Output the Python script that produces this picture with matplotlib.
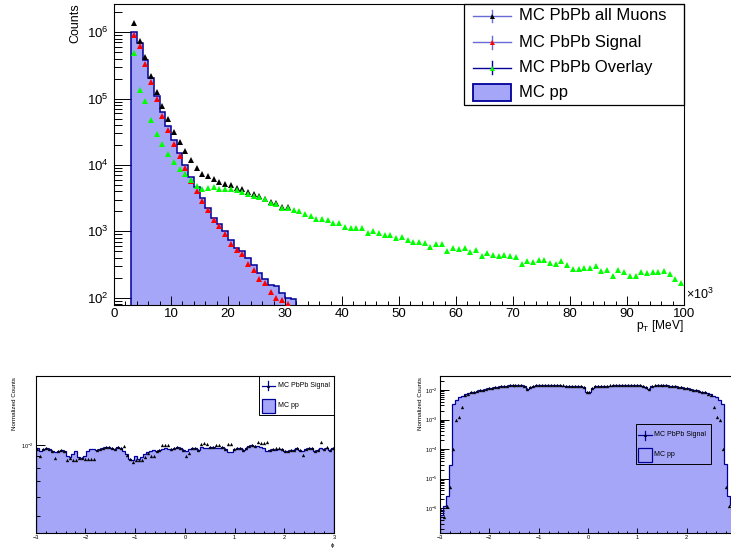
import numpy as np
import matplotlib
matplotlib.use("Agg")
import matplotlib.pyplot as plt
from matplotlib.patches import Rectangle
from matplotlib.lines import Line2D
from matplotlib.ticker import LogLocator, MultipleLocator, NullFormatter, FixedLocator, FixedFormatter

plt.rcParams['font.family'] = ['Liberation Sans', 'DejaVu Sans']
plt.rcParams['mathtext.fontset'] = 'custom'
plt.rcParams['mathtext.rm'] = 'Liberation Sans'
plt.rcParams['mathtext.it'] = 'Liberation Sans'

# ---------------- data ----------------
# transverse momentum, bins of 1 (x10^3 MeV) starting at 3
pt_first_edge = 3.0
pt_bin_width = 1.0

pp_pt = [1.02e6, 6.8e5, 3.84e5, 2.03e5, 1.08e5, 6.2e4, 3.8e4, 2.35e4, 1.5e4, 9.9e3,
         6.6e3, 4.6e3, 3.2e3, 2.26e3, 1.6e3, 1.3e3, 1.0e3, 735, 565, 500,
         398, 309, 238, 188, 158, 150, 119, 98, 97]

all_muons_pt = [1.36e6, 7.4e5, 4.2e5, 2.2e5, 1.25e5, 7.6e4, 4.9e4, 3.1e4, 2.2e4, 1.6e4,
                1.17e4, 9.0e3, 7.4e3, 6.8e3, 6.2e3, 5.6e3, 5.2e3, 5.0e3, 4.5e3, 4.3e3,
                3.9e3, 3.6e3, 3.4e3, 3.1e3, 2810, 2700, 2350, 2340]

signal_pt = [9.1e5, 6.1e5, 3.34e5, 1.77e5, 9.8e4, 5.5e4, 3.4e4, 2.1e4, 1.35e4, 9.0e3,
             5.8e3, 4.0e3, 2.84e3, 2.08e3, 1.5e3, 1.19e3, 896, 649, 520, 463,
             317, 260, 193, 164, 123, 100, 92, 81]

overlay_pt = [4.83e5, 1.36e5, 9.06e4, 4.81e4, 2.93e4, 2.05e4, 1.48e4, 1.11e4, 8.7e3, 7.2e3,
              5.9e3, 4.8e3, 4.4e3, 4.5e3, 4.6e3, 4.4e3, 4.4e3, 4.3e3, 4.16e3, 3.9e3,
              3.66e3, 3.46e3, 3.3e3, 3.08e3, 2.69e3, 2.6e3, 2256, 2256, 2130, 2055,
              1807, 1687, 1556, 1556, 1469, 1343, 1343, 1153, 1114, 1140,
              1140, 936, 1002, 936, 873, 873, 787, 815, 745, 686,
              686, 671, 577, 640, 640, 502, 557, 546, 557, 485,
              532, 423, 475, 433, 423, 433, 418, 404, 324, 356,
              344, 364, 364, 336, 317, 352, 313, 273, 267, 282,
              276, 299, 255, 261, 211, 261, 240, 211, 214, 246,
              235, 246, 243, 251, 227, 188, 168]

# azimuthal angle, 100 bins in [-3, 3]
phi_range = (-3.0, 3.0)
pp_phi = [9.73e-3, 9.47e-3, 9.63e-3, 9.73e-3, 9.63e-3, 9.47e-3, 9.32e-3, 9.47e-3, 9.53e-3, 9.41e-3,
          9.02e-3, 8.88e-3, 9.18e-3, 9.41e-3, 8.88e-3, 8.82e-3, 9.02e-3, 9.47e-3, 9.63e-3, 9.63e-3,
          9.53e-3, 9.63e-3, 9.73e-3, 9.80e-3, 9.85e-3, 9.73e-3, 9.63e-3, 9.80e-3, 9.73e-3, 9.47e-3,
          9.18e-3, 8.73e-3, 8.65e-3, 9.02e-3, 8.73e-3, 8.88e-3, 9.18e-3, 9.32e-3, 9.47e-3, 9.53e-3,
          9.41e-3, 9.53e-3, 9.63e-3, 9.73e-3, 9.63e-3, 9.63e-3, 9.73e-3, 9.80e-3, 9.70e-3, 9.53e-3,
          9.47e-3, 9.60e-3, 9.73e-3, 9.73e-3, 9.53e-3, 9.85e-3, 9.73e-3, 9.73e-3, 9.85e-3, 9.80e-3,
          9.73e-3, 9.73e-3, 9.80e-3, 9.63e-3, 9.32e-3, 9.32e-3, 9.63e-3, 9.73e-3, 9.73e-3, 9.53e-3,
          9.73e-3, 9.95e-3, 1.005e-2, 9.95e-3, 9.95e-3, 9.85e-3, 9.73e-3, 9.47e-3, 9.53e-3, 9.63e-3,
          9.53e-3, 9.63e-3, 9.63e-3, 9.47e-3, 9.41e-3, 9.53e-3, 9.53e-3, 9.73e-3, 9.53e-3, 9.41e-3,
          9.63e-3, 9.73e-3, 9.73e-3, 9.47e-3, 9.53e-3, 9.73e-3, 9.63e-3, 9.73e-3, 9.53e-3, 9.73e-3]

signal_phi = [9.6e-3, 9.02e-3, 9.6e-3, 9.7e-3, 9.6e-3, 9.4e-3, 8.79e-3, 9.4e-3, 9.5e-3, 9.4e-3,
              8.60e-3, 8.8e-3, 8.65e-3, 8.65e-3, 8.8e-3, 8.8e-3, 8.70e-3, 8.70e-3, 8.70e-3, 8.70e-3,
              9.5e-3, 9.6e-3, 9.7e-3, 9.8e-3, 9.8e-3, 9.7e-3, 9.6e-3, 9.8e-3, 9.7e-3, 9.95e-3,
              9.1e-3, 8.7e-3, 8.50e-3, 8.60e-3, 8.60e-3, 8.60e-3, 8.88e-3, 9.2e-3, 8.94e-3, 9.0e-3,
              9.4e-3, 9.5e-3, 1.0e-2, 1.0e-2, 1.0e-2, 9.6e-3, 9.7e-3, 9.8e-3, 9.7e-3, 9.5e-3,
              9.02e-3, 9.23e-3, 9.7e-3, 9.7e-3, 9.5e-3, 1.01e-2, 1.015e-2, 1.01e-2, 9.8e-3, 9.8e-3,
              1.005e-2, 1.005e-2, 9.8e-3, 9.6e-3, 1.01e-2, 1.01e-2, 9.6e-3, 9.7e-3, 9.7e-3, 9.5e-3,
              9.7e-3, 9.9e-3, 1.0e-2, 9.9e-3, 1.025e-2, 1.015e-2, 1.015e-2, 1.025e-2, 9.5e-3, 9.6e-3,
              9.73e-3, 9.73e-3, 9.6e-3, 9.4e-3, 9.4e-3, 9.5e-3, 9.5e-3, 9.7e-3, 9.5e-3, 9.1e-3,
              9.6e-3, 9.7e-3, 9.7e-3, 9.4e-3, 9.5e-3, 1.025e-2, 9.6e-3, 9.85e-3, 9.5e-3, 9.73e-3]

# pseudorapidity, 100 bins in [-3, 3]
eta_range = (-3.0, 3.0)
eta_tick_values = [-3, -2, -1, 0, 1, 2, 3]
eta_tick_labels = ['\u22123', '\u22122', '\u22121', '0', '1', '2', '']
pp_eta = [6e-7, 1.2e-6, 2.5e-6, 3.0e-5, 3.5e-3, 4.6e-3, 5.6e-3, 6.4e-3, 7.1e-3, 7.7e-3,
          8.3e-3, 8.8e-3, 9.3e-3, 9.8e-3, 1.03e-2, 1.08e-2, 1.13e-2, 1.18e-2, 1.23e-2, 1.28e-2,
          1.33e-2, 1.37e-2, 1.41e-2, 1.43e-2, 1.45e-2, 1.46e-2, 1.46e-2, 1.44e-2, 1.36e-2, 1.08e-2,
          1.30e-2, 1.41e-2, 1.45e-2, 1.46e-2, 1.46e-2, 1.45e-2, 1.45e-2, 1.44e-2, 1.44e-2, 1.43e-2,
          1.43e-2, 1.42e-2, 1.41e-2, 1.40e-2, 1.39e-2, 1.38e-2, 1.36e-2, 1.32e-2, 1.22e-2, 8.8e-3,
          8.6e-3, 1.20e-2, 1.32e-2, 1.36e-2, 1.38e-2, 1.40e-2, 1.41e-2, 1.42e-2, 1.43e-2, 1.43e-2,
          1.44e-2, 1.44e-2, 1.45e-2, 1.45e-2, 1.46e-2, 1.46e-2, 1.45e-2, 1.43e-2, 1.38e-2, 1.30e-2,
          1.07e-2, 1.32e-2, 1.42e-2, 1.46e-2, 1.46e-2, 1.45e-2, 1.43e-2, 1.41e-2, 1.37e-2, 1.33e-2,
          1.28e-2, 1.23e-2, 1.18e-2, 1.13e-2, 1.08e-2, 1.03e-2, 9.8e-3, 9.3e-3, 8.8e-3, 8.3e-3,
          7.7e-3, 7.1e-3, 6.4e-3, 5.6e-3, 4.6e-3, 3.5e-3, 3.2e-5, 2.6e-6, 1.3e-6, 6e-7]

signal_eta = [8.9e-7, 5e-7, 1.15e-6, 5.4e-6, 1.0e-4, 9.7e-4, 1.2e-3, 2.7e-3, 6.8e-3, 7.6e-3,
              8.3e-3, 8.8e-3, 9.3e-3, 9.8e-3, 1.04e-2, 1.09e-2, 1.14e-2, 1.19e-2, 1.24e-2, 1.29e-2,
              1.34e-2, 1.38e-2, 1.42e-2, 1.44e-2, 1.46e-2, 1.47e-2, 1.47e-2, 1.45e-2, 1.37e-2, 1.09e-2,
              1.31e-2, 1.42e-2, 1.46e-2, 1.47e-2, 1.47e-2, 1.46e-2, 1.46e-2, 1.45e-2, 1.45e-2, 1.44e-2,
              1.44e-2, 1.43e-2, 1.42e-2, 1.41e-2, 1.40e-2, 1.39e-2, 1.37e-2, 1.33e-2, 1.23e-2, 8.9e-3,
              8.7e-3, 1.21e-2, 1.33e-2, 1.37e-2, 1.39e-2, 1.41e-2, 1.42e-2, 1.43e-2, 1.44e-2, 1.44e-2,
              1.45e-2, 1.45e-2, 1.46e-2, 1.46e-2, 1.47e-2, 1.47e-2, 1.46e-2, 1.44e-2, 1.39e-2, 1.31e-2,
              1.08e-2, 1.33e-2, 1.43e-2, 1.47e-2, 1.47e-2, 1.46e-2, 1.44e-2, 1.42e-2, 1.38e-2, 1.34e-2,
              1.29e-2, 1.24e-2, 1.19e-2, 1.14e-2, 1.09e-2, 1.04e-2, 9.8e-3, 9.3e-3, 8.8e-3, 8.3e-3,
              7.6e-3, 6.8e-3, 2.7e-3, 1.2e-3, 9.7e-4, 1.0e-4, 5.4e-6, 1.15e-6, 5e-7, 8.9e-7]

# ---------------- styles ----------------
FILL = '#a6a6f8'
NAVY = '#000099'
LEGLINE = '#6a6ad6'
GREEN = '#00ff00'
RED = '#ff0000'
W, H = 731, 549

fig = plt.figure(figsize=(W / 100, H / 100), dpi=100)
fig.patch.set_facecolor('white')


def rect(x0, y0, x1, y1):
    """pixel box (origin top-left) -> figure fraction rectangle"""
    return [x0 / W, 1 - y1 / H, (x1 - x0) / W, (y1 - y0) / H]


def fxy(x, y):
    return x / W, 1 - y / H


def root_frame(ax, lw=0.8):
    for s in ax.spines.values():
        s.set_linewidth(lw)
    ax.tick_params(which='both', direction='in', top=False, right=False,
                   width=0.7, color='black')


def legend_frame(x0, y0, x1, y1, lw=0.9):
    fig.add_artist(Rectangle(fxy(x0, y1), (x1 - x0) / W, (y1 - y0) / H,
                             transform=fig.transFigure, fill=False,
                             ec='black', lw=lw))


def legend_marker(xa, xb, yc, half, lcolor, mcolor, ms, lw, text, tx, fs):
    fig.add_artist(Line2D([xa / W, xb / W], [1 - yc / H] * 2, color=lcolor,
                          lw=lw, transform=fig.transFigure))
    xm = 0.5 * (xa + xb)
    fig.add_artist(Line2D([xm / W] * 2, [1 - (yc - half) / H, 1 - (yc + half) / H],
                          color=lcolor, lw=lw, transform=fig.transFigure))
    fig.add_artist(Line2D([xm / W], [1 - yc / H], marker='^', ms=ms,
                          color=mcolor, mew=0, ls='none', transform=fig.transFigure))
    fig.text(tx / W, 1 - yc / H, text, ha='left', va='center', fontsize=fs)


def legend_fill(xa, ya, xb, yb, text, tx, fs, lw):
    fig.add_artist(Rectangle(fxy(xa, yb), (xb - xa) / W, (yb - ya) / H,
                             transform=fig.transFigure, fc=FILL, ec=NAVY, lw=lw))
    fig.text(tx / W, 1 - 0.5 * (ya + yb) / H, text, ha='left', va='center', fontsize=fs)


# ---------------- top: pT spectrum ----------------
ax = fig.add_axes(rect(114, 4.3, 684, 305))
n_pp = len(pp_pt)
pp_edges = pt_first_edge + pt_bin_width * np.arange(n_pp + 1)
ax.stairs(pp_pt, pp_edges, baseline=1.0, fill=True, color=FILL, zorder=1)
ax.stairs(pp_pt, pp_edges, baseline=1.0, color=NAVY, lw=1.1, zorder=2)


def centers(n):
    return pt_first_edge + pt_bin_width * (np.arange(n) + 0.5)


MS = 4.6
ax.plot(centers(len(all_muons_pt)), all_muons_pt, '^', color='black', ms=MS, mew=0, zorder=3)
ax.plot(centers(len(signal_pt)), signal_pt, '^', color=RED, ms=MS, mew=0, zorder=4)
ax.plot(centers(len(overlay_pt)), overlay_pt, '^', color=GREEN, ms=MS, mew=0, zorder=5)

ax.set_xlim(0, 100)
ax.set_yscale('log')
ax.set_ylim(77.6, 2.63e6)
root_frame(ax)
ax.xaxis.set_major_locator(MultipleLocator(10))
ax.xaxis.set_minor_locator(MultipleLocator(2))
ax.yaxis.set_major_locator(LogLocator(base=10))
ax.yaxis.set_minor_locator(LogLocator(base=10, subs=np.arange(2, 10)))
ax.yaxis.set_minor_formatter(NullFormatter())
ax.tick_params(axis='y', which='major', length=12.2, pad=4, labelsize=9.5)
ax.tick_params(axis='y', which='minor', length=6.1)
ax.tick_params(axis='x', which='major', length=6.4, pad=2, labelsize=9.5)
ax.tick_params(axis='x', which='minor', length=3.2)

fig.text(*fxy(686, 299), r'$\times$10$^{3}$', ha='left', va='baseline', fontsize=9)
fig.text(*fxy(684, 329), r'p$_{\mathrm{T}}$ [MeV]', ha='right', va='baseline', fontsize=8.6)
fig.text(*fxy(75, 3.3), 'Counts', rotation=90, ha='center', va='top', fontsize=9)

legend_frame(464, 4, 684, 105)
legend_marker(472.7, 510.7, 16, 6.3, LEGLINE, 'black', 3.6, 1.0, 'MC PbPb all Muons', 519.3, 12)
legend_marker(472.7, 510.7, 42.3, 6.3, LEGLINE, RED, 3.6, 1.0, 'MC PbPb Signal', 519.3, 12)
legend_marker(472.7, 510.7, 67.7, 6.3, NAVY, GREEN, 3.6, 1.0, 'MC PbPb Overlay', 519.3, 12)
legend_fill(472.7, 84.3, 510.7, 101, 'MC pp', 519.3, 12, 1.3)


# ---------------- bottom panels ----------------
def small_axes(box, xr, ylim, pp, sig):
    a = fig.add_axes(rect(*box))
    n = len(pp)
    edges = np.linspace(xr[0], xr[1], n + 1)
    mids = 0.5 * (edges[:-1] + edges[1:])
    a.stairs(pp, edges, baseline=1e-12, fill=True, color=FILL, zorder=1)
    a.stairs(pp, edges, baseline=1e-12, color=NAVY, lw=0.9, zorder=2)
    a.plot(mids, sig, '^', color='black', ms=2.4, mew=0, zorder=3)
    a.set_xlim(*xr)
    a.set_yscale('log')
    a.set_ylim(*ylim)
    root_frame(a, lw=0.8)
    a.xaxis.set_major_locator(MultipleLocator(1))
    a.xaxis.set_minor_locator(MultipleLocator(0.2))
    a.yaxis.set_major_locator(LogLocator(base=10))
    a.yaxis.set_minor_locator(LogLocator(base=10, subs=np.arange(2, 10)))
    a.yaxis.set_minor_formatter(NullFormatter())
    a.tick_params(axis='y', which='major', length=6.4, pad=2, labelsize=4)
    a.tick_params(axis='y', which='minor', length=3.2)
    a.tick_params(axis='x', which='major', length=3.4, pad=1.5, labelsize=4)
    a.tick_params(axis='x', which='minor', length=1.7)
    return a


# azimuthal angle
ax_phi = small_axes((35.7, 376, 334, 533.3), phi_range, (0.0042, 0.0197), pp_phi, signal_phi)
fig.text(*fxy(15, 377), 'Normalized Counts', rotation=90, ha='center', va='top', fontsize=4.5)
fig.text(*fxy(333, 545), r'$\phi$', ha='center', va='center', fontsize=4.3)
legend_frame(259.3, 375.7, 334, 415, lw=0.7)
legend_marker(261.7, 275, 385.7, 4.5, NAVY, 'black', 2.2, 0.9, 'MC PbPb Signal', 277.7, 5)
legend_fill(261.7, 399, 275, 412.7, 'MC pp', 277.7, 5, 0.9)

# pseudorapidity (frame runs past the right edge of the canvas)
ax_eta = small_axes((440, 376, 736, 533.3), eta_range, (1.41e-7, 0.0299), pp_eta, signal_eta)
ax_eta.xaxis.set_major_locator(FixedLocator(eta_tick_values))
ax_eta.xaxis.set_major_formatter(FixedFormatter(eta_tick_labels))
fig.text(*fxy(420, 377), 'Normalized Counts', rotation=90, ha='center', va='top', fontsize=4.5)
legend_frame(636, 424, 710.7, 464.3, lw=0.7)
legend_marker(638.3, 651.7, 435, 4.5, NAVY, 'black', 2.2, 0.9, 'MC PbPb Signal', 654, 5)
legend_fill(638.3, 448.3, 651.7, 461.7, 'MC pp', 654, 5, 0.9)

fig.savefig('out.png', dpi=100)
